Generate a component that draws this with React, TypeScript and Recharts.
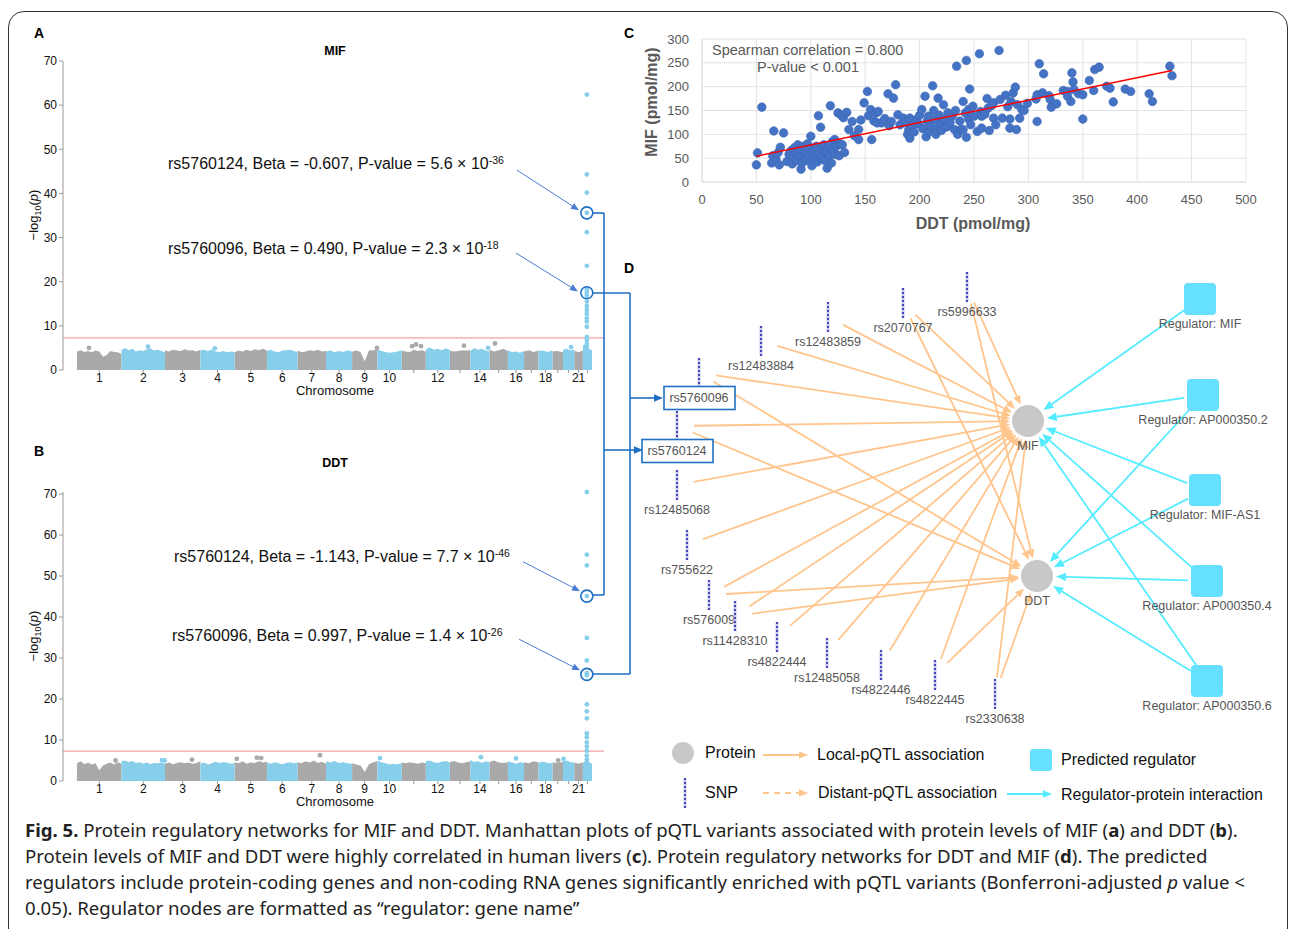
import React from 'react';
import {
  ComposedChart, ScatterChart, Scatter, Area, XAxis, YAxis, CartesianGrid, ReferenceLine, ReferenceDot,
} from 'recharts';

const FONT = '"Liberation Sans", Arial, Helvetica, sans-serif';

// ---------- Manhattan plots (A, B) ----------
// chromosome lengths in Mb (hg19)
const chromLengths = [249, 243, 198, 191, 181, 171, 159, 146, 141, 136, 135, 134, 115, 107, 103, 90, 81, 78, 59, 63, 48, 51];
const chromLabels = ['1', '2', '3', '4', '5', '6', '7', '8', '9', '10', '', '12', '', '14', '', '16', '', '18', '', '', '21', ''];
const manhattanYTicks = [0, 10, 20, 30, 40, 50, 60, 70];
const genomeWideLine = 7.3;

// top envelope of the dense SNP cloud per chromosome, -log10(p)
const mifEnvelope = [
  [4.2, 4.5, 4.1, 4.3, 4.0, 4.4, 4.2, 3.0, 3.4, 4.3, 4.1, 4.0, 3.6],
  [4.6, 5.0, 4.5, 4.8, 4.2, 4.5, 4.3, 4.7, 4.9, 4.4, 4.6, 4.3, 4.0],
  [4.5, 4.2, 4.6, 4.4, 4.3, 4.7, 4.4, 4.5, 4.2, 4.6],
  [4.4, 4.6, 4.3, 4.7, 4.2, 4.1, 4.3, 4.0, 4.2, 4.1],
  [4.0, 4.4, 4.2, 4.6, 4.3, 4.7, 4.5, 4.8, 4.4],
  [4.3, 4.6, 4.2, 4.0, 4.4, 4.5, 4.6, 4.3, 4.1],
  [4.4, 4.0, 4.2, 4.5, 4.3, 4.6, 4.2, 4.3],
  [4.2, 4.4, 4.0, 4.3, 4.1, 4.5, 4.2],
  [4.2, 4.4, 4.1, 2.0, 4.4, 4.5, 4.6],
  [4.6, 4.3, 4.1, 3.9, 4.0, 4.2, 4.5],
  [4.4, 4.2, 4.1, 4.6, 4.3, 4.5, 4.2],
  [4.7, 5.1, 4.6, 4.8, 4.5, 4.9, 4.6],
  [4.4, 4.2, 4.3, 4.5, 4.4, 4.5],
  [4.3, 5.0, 4.6, 4.8, 4.4, 4.2],
  [4.6, 4.2, 4.5, 4.8, 4.3],
  [4.4, 4.1, 4.2, 3.9, 4.3],
  [4.2, 4.5, 4.1, 4.4],
  [4.3, 4.4, 4.1, 4.5],
  [4.2, 4.3, 4.0],
  [4.6, 4.8, 4.4, 4.7],
  [4.3, 4.0, 4.4],
  [5.5, 6.0, 4.8, 4.5],
];
const ddtEnvelope = [
  [4.3, 4.8, 4.1, 4.5, 4.0, 4.3, 2.6, 3.8, 4.2, 4.5, 4.0, 4.6, 4.2],
  [4.8, 5.0, 4.6, 4.9, 4.4, 4.6, 4.2, 4.5, 4.1, 4.4, 4.3, 4.6, 4.2],
  [4.2, 4.5, 4.1, 4.4, 4.6, 4.3, 4.5, 4.2, 4.4, 4.8],
  [4.2, 4.5, 4.0, 4.3, 4.7, 4.4, 4.6, 4.5, 4.2, 4.4],
  [4.6, 4.3, 4.8, 4.2, 4.5, 4.4, 4.9, 4.5, 4.7],
  [4.5, 4.2, 4.6, 4.3, 4.1, 4.4, 4.6, 4.3, 4.5],
  [4.6, 4.3, 4.8, 4.5, 5.0, 4.4, 4.7, 4.2],
  [4.8, 4.5, 4.9, 4.4, 4.6, 4.3, 4.2],
  [4.3, 4.0, 3.8, 2.2, 4.1, 4.6, 4.8],
  [5.0, 4.6, 4.3, 4.0, 4.2, 4.1, 4.4],
  [4.5, 4.3, 4.6, 4.4, 4.2, 4.5, 4.3],
  [4.8, 5.0, 4.6, 4.4, 4.7, 4.9, 4.5],
  [4.6, 4.9, 4.5, 4.3, 4.6, 4.8],
  [5.2, 4.6, 4.9, 4.4, 4.8, 4.5],
  [4.7, 5.0, 4.5, 4.4, 4.6],
  [4.8, 4.5, 4.2, 4.6, 4.4],
  [4.6, 4.3, 4.8, 4.5],
  [4.5, 4.7, 4.4, 4.3],
  [4.6, 4.4, 4.7],
  [4.8, 5.0, 4.6, 4.5],
  [4.5, 4.2, 4.6],
  [4.4, 5.0, 4.6, 4.2],
];

// isolated SNPs above the cloud: [genome position (Mb), -log10(p)]
const mifGrayDots = [[67, 5.0], [1677, 5.0], [1873, 5.4], [1895, 5.8], [1923, 5.4], [2163, 5.5], [2337, 6.0]];
const mifBlueDots = [[397, 5.3], [771, 4.9], [2298, 5.0], [2762, 5.2]];
const ddtGrayDots = [[216, 5.0], [643, 5.2], [894, 5.4], [1006, 5.7], [1030, 5.6], [1358, 6.3], [2690, 5.0]];
const ddtBlueDots = [[475, 5.1], [490, 5.0], [1694, 5.6], [2258, 5.8], [2454, 5.5], [2720, 5.4]];

// chr22 peak (MIF / DDT locus)
const peakPos = 2850;
const mifPeak = [62.4, 44.3, 40.2, 35.6, 31.2, 23.6, 18.2, 17.5, 16.8, 15.5, 14.5, 13.6, 12.7, 11.7, 11, 9.8, 7.5, 6.8, 5.9, 5.2];
const ddtPeak = [70.5, 55.2, 52.6, 45.1, 34.9, 29.4, 26.3, 25.8, 18.7, 17, 15.3, 11.6, 10.7, 9.4, 8.4, 7.4, 6.2, 5.2, 4.6];

const mifHighlighted = [35.6, 17.5];
const ddtHighlighted = [45.1, 26];
// annotation arrows: [x1, y1, x2, y2] in genome Mb / -log10(p)
const mifArrows = [[2459, 45.3, 2806, 36.2], [2454, 26.5, 2800, 17.8]];
const ddtArrows = [[2493, 53.5, 2812, 46.3], [2471, 34.6, 2812, 27.0]];

// ---------- Panel C: MIF vs DDT ----------
const cXTicks = [0, 50, 100, 150, 200, 250, 300, 350, 400, 450, 500];
const cYTicks = [0, 50, 100, 150, 200, 250, 300];
const ddtVsMif = [
  [50, 36], [51, 61], [55, 157], [64, 40], [65, 55], [66, 107], [68, 48], [70, 62], [71, 36], [72, 73], [75, 103], [78, 43],
  [80, 58], [82, 66], [83, 38], [84, 50], [85, 72], [86, 60], [87, 45], [88, 78], [89, 55], [90, 68], [91, 27], [92, 40],
  [93, 75], [94, 52], [95, 62], [96, 45], [97, 80], [98, 57], [99, 70], [100, 96], [101, 34], [102, 48], [103, 64], [104, 55],
  [105, 75], [106, 42], [107, 139], [108, 60], [109, 115], [110, 50], [111, 68], [112, 78], [113, 45], [114, 62], [115, 29],
  [116, 72], [117, 55], [118, 160], [119, 40], [120, 85], [121, 66], [122, 89], [123, 58], [124, 76], [125, 145], [126, 55],
  [127, 80], [128, 140], [129, 78], [130, 135], [131, 62], [133, 146], [135, 110], [138, 127],
  [140, 97], [144, 110], [144, 89], [146, 130], [149, 166], [152, 190], [153, 139], [155, 152], [156, 89], [158, 128],
  [160, 145], [161, 124], [162, 148], [165, 124], [168, 133], [171, 185], [172, 118], [174, 127], [176, 176], [178, 204],
  [180, 141], [182, 120], [185, 134], [187, 125], [189, 100], [190, 110], [191, 92], [191, 134], [193, 118], [195, 105],
  [197, 131], [199, 122], [200, 140], [202, 152], [203, 112], [205, 180], [206, 95], [207, 128], [208, 138], [209, 106],
  [210, 118], [212, 202], [213, 150], [214, 131], [215, 100], [216, 112], [217, 176], [218, 140], [219, 122], [220, 108],
  [222, 162], [223, 130], [224, 115], [226, 145], [226, 117], [228, 125], [230, 138], [232, 110], [233, 150], [234, 243],
  [235, 100], [237, 128], [238, 110], [240, 169], [240, 110], [242, 145], [243, 255], [243, 94], [245, 132], [245, 152],
  [246, 195], [247, 120], [249, 159], [250, 138],
  [253, 106], [255, 269], [256, 148], [257, 113], [257, 138], [260, 142], [262, 175], [263, 155], [264, 108], [266, 160],
  [268, 134], [268, 166], [270, 120], [273, 276], [274, 173], [276, 134], [279, 182], [281, 158], [283, 132], [283, 113],
  [284, 169], [286, 187], [288, 199], [289, 110], [290, 162], [292, 134], [294, 152], [296, 150], [299, 165], [307, 174],
  [308, 127], [308, 183], [310, 248], [313, 187], [314, 227], [319, 181], [320, 173], [321, 157], [326, 164], [332, 192],
  [336, 190], [336, 180], [339, 169], [340, 229], [341, 210], [342, 194], [346, 185], [350, 183], [350, 132], [356, 213],
  [360, 192], [361, 236], [365, 241], [372, 201], [375, 197], [378, 168], [389, 195], [394, 190], [411, 185], [414, 169],
  [430, 243], [432, 223],
];
const trendLine = [[50, 54], [432, 234]];

// ---------- Panel D: network layout (figure pixel coordinates) ----------
const proteinNodes = [
  { name: 'MIF', x: 1028, y: 421 },
  { name: 'DDT', x: 1037, y: 576 },
];
const regulatorNodes = [
  { name: 'Regulator: MIF', x: 1200, y: 299 },
  { name: 'Regulator: AP000350.2', x: 1203, y: 395 },
  { name: 'Regulator: MIF-AS1', x: 1205, y: 490 },
  { name: 'Regulator: AP000350.4', x: 1207, y: 581 },
  { name: 'Regulator: AP000350.6', x: 1207, y: 681 },
];
const snpNodes = [
  { name: 'rs5996633', x: 967, y: 287, targets: ['MIF', 'DDT'] },
  { name: 'rs2070767', x: 903, y: 303, targets: ['MIF', 'DDT'] },
  { name: 'rs12483859', x: 828, y: 317, targets: ['MIF'] },
  { name: 'rs12483884', x: 761, y: 341, targets: ['MIF'] },
  { name: 'rs5760096', x: 699, y: 373, targets: ['MIF', 'DDT'], boxed: true },
  { name: 'rs5760124', x: 677, y: 426, targets: ['MIF', 'DDT'], boxed: true },
  { name: 'rs12485068', x: 677, y: 485, targets: ['MIF'] },
  { name: 'rs755622', x: 687, y: 545, targets: ['MIF'] },
  { name: 'rs576009', x: 709, y: 595, targets: ['MIF', 'DDT'] },
  { name: 'rs11428310', x: 735, y: 616, targets: ['MIF', 'DDT'] },
  { name: 'rs4822444', x: 777, y: 637, targets: ['MIF'] },
  { name: 'rs12485058', x: 827, y: 653, targets: ['MIF'] },
  { name: 'rs4822446', x: 881, y: 665, targets: ['MIF'] },
  { name: 'rs4822445', x: 935, y: 675, targets: ['MIF', 'DDT'] },
  { name: 'rs2330638', x: 995, y: 694, targets: ['MIF', 'DDT'] },
];
const regulatorEdges = [
  ['Regulator: MIF', 'MIF'], ['Regulator: AP000350.2', 'MIF'], ['Regulator: AP000350.2', 'DDT'],
  ['Regulator: MIF-AS1', 'MIF'], ['Regulator: MIF-AS1', 'DDT'], ['Regulator: AP000350.4', 'DDT'],
  ['Regulator: AP000350.4', 'MIF'], ['Regulator: AP000350.6', 'DDT'], ['Regulator: AP000350.6', 'MIF'],
];
// blue connectors linking the highlighted SNPs of A/B to panel D
const connectorPaths = [
  [[592, 213], [604, 213], [604, 595], [592, 595]],
  [[592, 293], [630, 293], [630, 674], [592, 674]],
];
const connectorArrows = [
  [[604, 450], [643, 450]],
  [[630, 398], [663, 398]],
];

const ORANGE = '#FFC58C';
const CYAN = '#55ECFF';
const LINK = '#1f6fc5';

// ---------- helpers ----------
const chromStarts: number[] = [];
chromLengths.forEach((len, i) => chromStarts.push(i === 0 ? 0 : chromStarts[i - 1] + chromLengths[i - 1]));
const chromCenters = chromStarts.map((s, i) => s + chromLengths[i] / 2);

function envelopeRows(env: number[][]) {
  const rows: any[] = [];
  env.forEach((hs, i) => {
    const key = i % 2 === 0 ? 'gray' : 'blue';
    hs.forEach((h, j) => {
      rows.push({ x: chromStarts[i] + (chromLengths[i] * j) / (hs.length - 1), [key]: h });
    });
  });
  return rows;
}

const arrowShape = (color: string, width: number, head: number, dash?: string) => (p: any) => {
  const x1 = Number(p.x1), y1 = Number(p.y1), x2 = Number(p.x2), y2 = Number(p.y2);
  const dx = x2 - x1, dy = y2 - y1;
  const len = Math.hypot(dx, dy) || 1;
  const ux = dx / len, uy = dy / len;
  const bx = x2 - ux * head, by = y2 - uy * head;
  const w = head * 0.42;
  return (
    <g>
      <line x1={x1} y1={y1} x2={bx} y2={by} stroke={color} strokeWidth={width} strokeDasharray={dash} />
      <polygon points={`${x2},${y2} ${bx - uy * w},${by + ux * w} ${bx + uy * w},${by - ux * w}`} fill={color} />
    </g>
  );
};
const plainLine = (color: string, width: number) => (p: any) => (
  <line x1={p.x1} y1={p.y1} x2={p.x2} y2={p.y2} stroke={color} strokeWidth={width} />
);

const Txt = ({ x, y, children, size = 12, anchor = 'start', weight = 400, color = '#000', family = FONT, style = {} }: any) => {
  const tx = anchor === 'middle' ? '-50%' : anchor === 'end' ? '-100%' : '0';
  return (
    <div style={{
      position: 'absolute', left: x, top: y, transform: `translate(${tx},-50%)`, fontSize: size, lineHeight: 1,
      fontWeight: weight, color, fontFamily: family, whiteSpace: 'nowrap', ...style,
    }}>{children}</div>
  );
};

const dotShape = (fill: string, r: number) => (p: any) => <circle cx={p.cx} cy={p.cy} r={r} fill={fill} />;

function Manhattan({ top, height, envelope, grayDots, blueDots, peak, highlighted, arrows }: any) {
  const rows = envelopeRows(envelope);
  const gray = grayDots.map(([x, y]: number[]) => ({ x, y }));
  const blue = blueDots.map(([x, y]: number[]) => ({ x, y }));
  const peakPts = peak.map((y: number) => ({ x: peakPos, y }));
  return (
    <div style={{ position: 'absolute', left: 0, top }}>
      <ComposedChart width={620} height={height} data={rows} margin={{ top: 21, right: 16, bottom: 0, left: 0 }}>
        <XAxis type="number" dataKey="x" domain={[-78, 2946]} ticks={chromCenters} interval={0}
          tickFormatter={(v: number) => chromLabels[chromCenters.indexOf(v)] ?? ''}
          axisLine={false} tickLine={{ stroke: '#999' }} tickSize={3} tickMargin={0} height={30}
          tick={{ fontSize: 12, fill: '#111', fontFamily: FONT }} />
        <YAxis type="number" domain={[0, 70]} ticks={manhattanYTicks} width={63} interval={0}
          axisLine={{ stroke: '#999' }} tickLine={{ stroke: '#999' }} tickSize={4} tickMargin={2}
          tick={{ fontSize: 12, fill: '#111', fontFamily: FONT }} />
        <Area dataKey="gray" type="linear" fill="#A9A9A9" fillOpacity={1} stroke="none" dot={false} activeDot={false} isAnimationActive={false} />
        <Area dataKey="blue" type="linear" fill="#87CEEB" fillOpacity={1} stroke="none" dot={false} activeDot={false} isAnimationActive={false} />
        <Scatter data={gray} dataKey="y" shape={dotShape('#A9A9A9', 2.4)} isAnimationActive={false} />
        <Scatter data={blue} dataKey="y" shape={dotShape('#87CEEB', 2.4)} isAnimationActive={false} />
        <Scatter data={peakPts} dataKey="y" shape={dotShape('#87CEEB', 2.4)} isAnimationActive={false} />
        <ReferenceLine y={genomeWideLine} stroke="#F4A3A3" strokeWidth={1.2} />
        {highlighted.map((y: number, i: number) => (
          <ReferenceDot key={`h${i}`} x={peakPos} y={y} r={6} fill="none" stroke={LINK} strokeWidth={1.6} />
        ))}
        {arrows.map((a: number[], i: number) => (
          <ReferenceLine key={`a${i}`} segment={[{ x: a[0], y: a[1] }, { x: a[2], y: a[3] }]} shape={arrowShape('#4a7bd0', 1, 8)} />
        ))}
      </ComposedChart>
    </div>
  );
}

const snpShape = (p: any) => {
  const { cx, cy, payload } = p;
  const ly = cy + 25;
  return (
    <g>
      <rect x={cx - 1.5} y={cy - 15} width={3} height={30} fill="#c9c9f0" />
      <line x1={cx} y1={cy - 15} x2={cx} y2={cy + 15} stroke="#4646b4" strokeWidth={2} strokeDasharray="2 2" />
      {payload.boxed && <rect x={cx - 35} y={ly - 11.5} width={71} height={23} fill="#fff" stroke={LINK} strokeWidth={1.6} />}
      <text x={cx} y={ly} textAnchor="middle" dominantBaseline="central" fontSize={12.5} fill="#555" fontFamily={FONT}>{payload.name}</text>
    </g>
  );
};
const proteinShape = (p: any) => (
  <g>
    <circle cx={p.cx} cy={p.cy} r={16} fill="#C8C8C8" />
    <text x={p.cx} y={p.cy + 25} textAnchor="middle" dominantBaseline="central" fontSize={12.5} fill="#555" fontFamily={FONT}>{p.payload.name}</text>
  </g>
);
const regulatorShape = (p: any) => (
  <g>
    <rect x={p.cx - 16} y={p.cy - 16} width={32} height={32} rx={4} fill="#66E0FF" />
    <text x={p.cx} y={p.cy + 25} textAnchor="middle" dominantBaseline="central" fontSize={12.5} fill="#555" fontFamily={FONT}>{p.payload.name}</text>
  </g>
);

function edgeSegment(from: { x: number; y: number }, to: { x: number; y: number }, startOff: number, endOff: number) {
  const dx = to.x - from.x, dy = to.y - from.y;
  const len = Math.hypot(dx, dy);
  const ux = dx / len, uy = dy / len;
  return [
    { x: from.x + ux * startOff, y: from.y + uy * startOff },
    { x: to.x - ux * endOff, y: to.y - uy * endOff },
  ];
}

function Network() {
  const prot = (n: string) => proteinNodes.find((p) => p.name === n)!;
  const reg = (n: string) => regulatorNodes.find((r) => r.name === n)!;
  const snpEdges: any[] = [];
  snpNodes.forEach((s) => s.targets.forEach((t) => snpEdges.push(edgeSegment(s, prot(t), 17, 18))));
  const regEdges = regulatorEdges.map(([r, t]) => edgeSegment(reg(r), prot(t), 19, 19));
  return (
    <div style={{ position: 'absolute', left: 0, top: 0, pointerEvents: 'none' }}>
      <ComposedChart width={1292} height={929} margin={{ top: 0, right: 0, bottom: 0, left: 0 }}>
        <XAxis type="number" dataKey="x" domain={[0, 1292]} hide />
        <YAxis type="number" dataKey="y" domain={[0, 929]} reversed hide />
        {connectorPaths.map((path, i) => path.slice(1).map((pt, j) => (
          <ReferenceLine key={`c${i}-${j}`} segment={[{ x: path[j][0], y: path[j][1] }, { x: pt[0], y: pt[1] }]}
            shape={plainLine(LINK, 1.6)} ifOverflow="visible" />
        )))}
        {connectorArrows.map((a, i) => (
          <ReferenceLine key={`ca${i}`} segment={[{ x: a[0][0], y: a[0][1] }, { x: a[1][0], y: a[1][1] }]}
            shape={arrowShape(LINK, 1.6, 9)} ifOverflow="visible" />
        ))}
        {snpEdges.map((seg, i) => (
          <ReferenceLine key={`s${i}`} segment={seg} shape={arrowShape(ORANGE, 1.8, 9)} ifOverflow="visible" />
        ))}
        {regEdges.map((seg, i) => (
          <ReferenceLine key={`r${i}`} segment={seg} shape={arrowShape(CYAN, 1.8, 10)} ifOverflow="visible" />
        ))}
        <Scatter data={snpNodes} dataKey="y" shape={snpShape} isAnimationActive={false} />
        <Scatter data={proteinNodes} dataKey="y" shape={proteinShape} isAnimationActive={false} />
        <Scatter data={regulatorNodes} dataKey="y" shape={regulatorShape} isAnimationActive={false} />
      </ComposedChart>
    </div>
  );
}

function Legend() {
  const t = (x: number, y: number, s: string) => <Txt x={x} y={y} size={16} color="#111">{s}</Txt>;
  return (
    <>
      <svg style={{ position: 'absolute', left: 0, top: 0 }} width={1292} height={929}>
        <circle cx={683} cy={753} r={11} fill="#C8C8C8" />
        <rect x={683.5} y={778} width={3} height={30} fill="#c9c9f0" />
        <line x1={685} y1={778} x2={685} y2={808} stroke="#4646b4" strokeWidth={2} strokeDasharray="2 2" />
        {arrowShape(ORANGE, 1.8, 9)({ x1: 763, y1: 755, x2: 808, y2: 755 })}
        {arrowShape(ORANGE, 1.8, 9, '6 5')({ x1: 763, y1: 793, x2: 808, y2: 793 })}
        <rect x={1030} y={749} width={22} height={22} rx={3} fill="#66E0FF" />
        {arrowShape(CYAN, 1.8, 9)({ x1: 1007, y1: 794, x2: 1052, y2: 794 })}
      </svg>
      {t(705, 753, 'Protein')}
      {t(817, 755, 'Local-pQTL association')}
      {t(1061, 760, 'Predicted regulator')}
      {t(705, 793, 'SNP')}
      {t(818, 793, 'Distant-pQTL association')}
      {t(1061, 795, 'Regulator-protein interaction')}
    </>
  );
}

const Sup = ({ children }: any) => <span style={{ fontSize: 10.5, verticalAlign: 5 }}>{children}</span>;
const YLab = ({ x, y }: any) => (
  <Txt x={x} y={y} size={13} anchor="middle" color="#111" style={{ transform: 'translate(-50%,-50%) rotate(-90deg)' }}>
    −log<span style={{ fontSize: 9, verticalAlign: -3 }}>10</span>(<i>p</i>)
  </Txt>
);

export default function App() {
  const cPts = ddtVsMif.map(([x, y]) => ({ x, y }));
  const trend = trendLine.map(([x, y]) => ({ x, y }));
  const capStyle = { fontFamily: '"Noto Sans", "Open Sans", sans-serif', fontSize: 18.6, color: '#222' };
  return (
    <div style={{ position: 'absolute', left: 0, top: 0, width: 1292, height: 929, overflow: 'hidden', background: '#fff', fontFamily: FONT }}>
      <div style={{ position: 'absolute', left: 8, top: 11, width: 1278, height: 960, border: '1.5px solid #333', borderRadius: 16 }} />

      {/* Panel A */}
      <Txt x={34} y={33} size={14} weight={700}>A</Txt>
      <Txt x={335} y={51} size={12.5} weight={700} anchor="middle">MIF</Txt>
      <YLab x={35} y={215} />
      <Manhattan top={40} height={360} envelope={mifEnvelope} grayDots={mifGrayDots} blueDots={mifBlueDots}
        peak={mifPeak} highlighted={mifHighlighted} arrows={mifArrows} />
      <Txt x={335} y={390} size={13} anchor="middle" color="#111">Chromosome</Txt>
      <Txt x={168} y={163} size={16} color="#111">rs5760124, Beta = -0.607, P-value = 5.6 × 10<Sup>-36</Sup></Txt>
      <Txt x={168} y={248} size={16} color="#111">rs5760096, Beta = 0.490, P-value = 2.3 × 10<Sup>-18</Sup></Txt>

      {/* Panel B */}
      <Txt x={34} y={451} size={14} weight={700}>B</Txt>
      <Txt x={335} y={463} size={12.5} weight={700} anchor="middle">DDT</Txt>
      <YLab x={35} y={636} />
      <Manhattan top={471} height={340} envelope={ddtEnvelope} grayDots={ddtGrayDots} blueDots={ddtBlueDots}
        peak={ddtPeak} highlighted={ddtHighlighted} arrows={ddtArrows} />
      <Txt x={335} y={801} size={13} anchor="middle" color="#111">Chromosome</Txt>
      <Txt x={174} y={556} size={16} color="#111">rs5760124, Beta = -1.143, P-value = 7.7 × 10<Sup>-46</Sup></Txt>
      <Txt x={172} y={635} size={16} color="#111">rs5760096, Beta = 0.997, P-value = 1.4 × 10<Sup>-26</Sup></Txt>

      {/* Panel C */}
      <Txt x={624} y={33} size={14} weight={700}>C</Txt>
      <div style={{ position: 'absolute', left: 620, top: 20 }}>
        <ScatterChart width={640} height={200} margin={{ top: 19, right: 14, bottom: 0, left: 0 }}>
          <CartesianGrid stroke="#DFE3E8" />
          <XAxis type="number" dataKey="x" domain={[0, 500]} ticks={cXTicks} interval={0} tickLine={false}
            axisLine={{ stroke: '#DFE3E8' }} tickMargin={7} height={38}
            tick={{ fontSize: 13, fill: '#595959', fontFamily: FONT }} />
          <YAxis type="number" dataKey="y" domain={[0, 300]} ticks={cYTicks} interval={0} width={82} tickLine={false}
            axisLine={{ stroke: '#DFE3E8' }} tickMargin={7}
            tick={{ fontSize: 13, fill: '#595959', fontFamily: FONT }} />
          <Scatter data={cPts} shape={(p: any) => <circle cx={p.cx} cy={p.cy} r={4.3} fill="#4472C4" stroke="#3d66b3" strokeWidth={0.6} />} isAnimationActive={false} />
          <Scatter data={trend} line={{ stroke: '#FF0000', strokeWidth: 1.5 }} shape={() => <g />} isAnimationActive={false} />
        </ScatterChart>
      </div>
      <Txt x={712} y={50} size={14.5} color="#595959">Spearman correlation = 0.800</Txt>
      <Txt x={757} y={67} size={14.5} color="#595959">P-value &lt; 0.001</Txt>
      <Txt x={652} y={102} size={16} weight={700} anchor="middle" color="#595959"
        style={{ transform: 'translate(-50%,-50%) rotate(-90deg)' }}>MIF (pmol/mg)</Txt>
      <Txt x={973} y={224} size={16} weight={700} anchor="middle" color="#595959">DDT (pmol/mg)</Txt>

      {/* Panel D */}
      <Txt x={624} y={268} size={14} weight={700}>D</Txt>
      <Network />
      <Legend />

      {/* caption */}
      <div style={{ position: 'absolute', left: 25, top: 817, lineHeight: '26px', whiteSpace: 'nowrap', ...capStyle }}>
        <div><b>Fig. 5.</b> Protein regulatory networks for MIF and DDT. Manhattan plots of pQTL variants associated with protein levels of MIF (<b>a</b>) and DDT (<b>b</b>).</div>
        <div>Protein levels of MIF and DDT were highly correlated in human livers (<b>c</b>). Protein regulatory networks for DDT and MIF (<b>d</b>). The predicted</div>
        <div>regulators include protein-coding genes and non-coding RNA genes significantly enriched with pQTL variants (Bonferroni-adjusted <i>p</i> value &lt;</div>
        <div>0.05). Regulator nodes are formatted as “regulator: gene name”</div>
      </div>
    </div>
  );
}
